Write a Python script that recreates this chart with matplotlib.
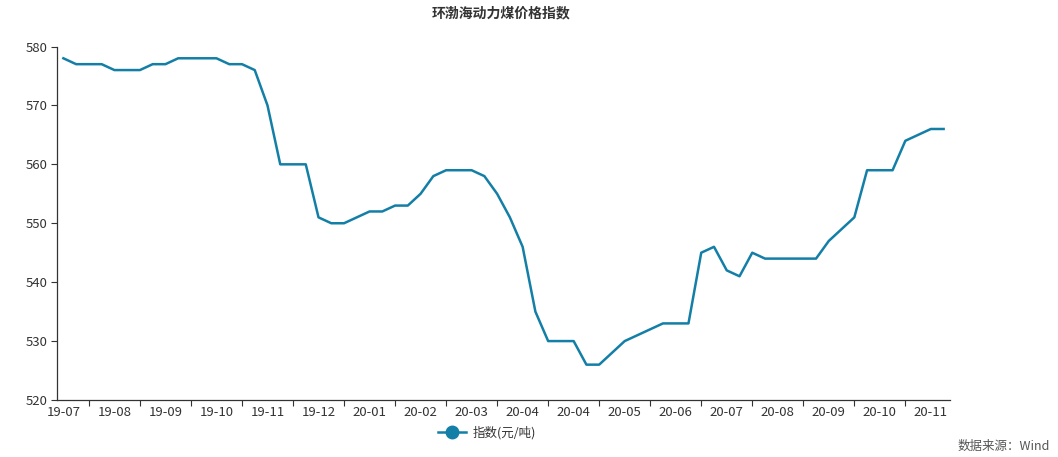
import matplotlib
matplotlib.use("Agg")
import matplotlib.pyplot as plt
from matplotlib.lines import Line2D

plt.rcParams['font.family'] = ['Noto Sans CJK SC', 'DejaVu Sans']

# weekly index values (元/吨)
values = [578, 577, 577, 577, 576, 576, 576, 577, 577, 578,
          578, 578, 578, 577, 577, 576, 570, 560, 560, 560,
          551, 550, 550, 551, 552, 552, 553, 553, 555, 558,
          559, 559, 559, 558, 555, 551, 546, 535, 530, 530,
          530, 526, 526, 528, 530, 531, 532, 533, 533, 533,
          545, 546, 542, 541, 545, 544, 544, 544, 544, 544,
          547, 549, 551, 559, 559, 559, 564, 565, 566, 566]
tick_labels = ['19-07', '19-08', '19-09', '19-10', '19-11', '19-12',
               '20-01', '20-02', '20-03', '20-04', '20-04', '20-05',
               '20-06', '20-07', '20-08', '20-09', '20-10', '20-11']

color = '#137fa6'
text_color = '#333333'

fig = plt.figure(figsize=(10.58, 4.57), dpi=100)
ax = fig.add_axes([57 / 1058, 57 / 457, (950 - 57) / 1058, (400 - 46.5) / 457])

x = list(range(len(values)))
ax.plot(x, values, color=color, linewidth=1.8)

ax.set_xlim(-0.5, len(values) - 0.5)
ax.set_ylim(520, 580)
ax.set_yticks(range(520, 581, 10))

ax.set_xticks(x[::4])
ax.set_xticklabels(tick_labels)
ax.set_xticks(x[2::4], minor=True)
ax.tick_params(axis='x', which='major', length=0, pad=4, labelsize=9.5, colors=text_color)
ax.tick_params(axis='x', which='minor', length=4, width=0.8, color=text_color)
ax.tick_params(axis='y', length=4, width=0.8, labelsize=9.5, colors=text_color, pad=3)

for s in ['top', 'right']:
    ax.spines[s].set_visible(False)
for s in ['left', 'bottom']:
    ax.spines[s].set_color(text_color)
    ax.spines[s].set_linewidth(0.9)

fig.text(501 / 1058, 1 - 13 / 457, '环渤海动力煤价格指数', ha='center', va='center',
         fontsize=10, fontweight='bold', color=text_color)

handle = Line2D([], [], color=color, linewidth=1.8, marker='o', markersize=9)
fig.legend([handle], ['指数(元/吨)'], loc='center', bbox_to_anchor=(487 / 1058, 1 - 433 / 457),
           frameon=False, fontsize=9, handlelength=2.2, handletextpad=0.5,
           labelcolor=text_color)

fig.text(1050 / 1058, 1 - 446 / 457, '数据来源：Wind', ha='right', va='center',
         fontsize=9, color='#555555')

fig.savefig('out.png', dpi=100)
